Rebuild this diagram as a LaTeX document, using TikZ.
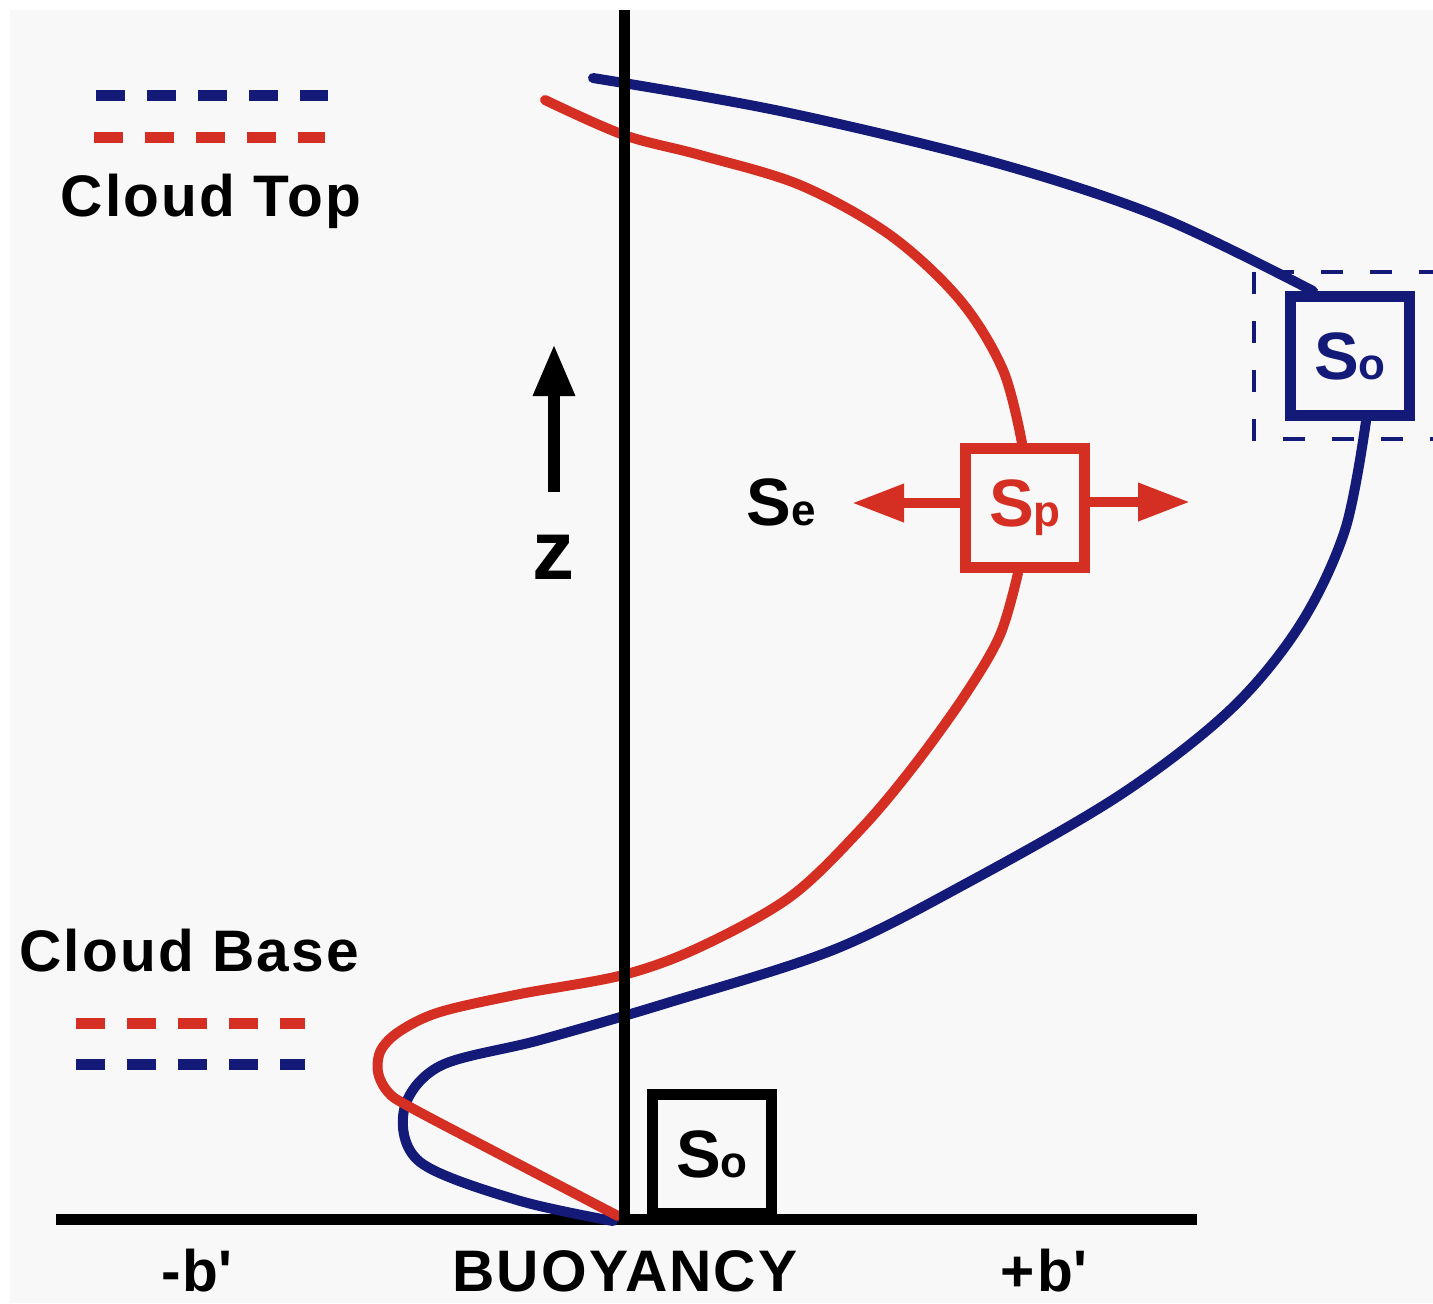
\documentclass[tikz,border=0pt]{standalone}
\usepackage{fontspec}
\setmainfont{Liberation Sans}[LetterSpace=3.7]
\usepackage{xcolor}
\usepackage{tikz}
\usetikzlibrary{arrows.meta,positioning,calc}

\definecolor{bgcol}{HTML}{F8F8F9}
\definecolor{plumeblue}{HTML}{141A78}
\definecolor{plumered}{HTML}{D42F22}
\newcommand{\Sv}[1]{{\fontsize{33.5pt}{36pt}\selectfont S}{\fontsize{22pt}{24pt}\selectfont #1}}

\begin{document}
\begin{tikzpicture}[x=0.5pt,y=-0.5pt,
    lbl/.style={font=\fontsize{29.3pt}{32pt}\selectfont\bfseries, inner sep=0.5pt},
    srcbox/.style={draw=#1, text=#1, fill=bgcol, line width=5.5pt, minimum size=59.5pt, inner sep=0pt, font=\bfseries},
    profile/.style={line width=5pt, line cap=round, smooth, tension=0.55},
    sparrow/.style={plumered, line width=5pt, -{Triangle[length=26pt,width=18pt]}},
    zarrow/.style={line width=6pt, -{Triangle[length=26pt,width=19.5pt]}}]
\useasboundingbox (0,0) rectangle (1433,1303);
\fill[white] (0,0) rectangle (1433,1303);
\fill[bgcol] (10,10) rectangle (1433,1303);

% legend dashes
\foreach \xa/\xb/\y/\col in {96/328/95/plumeblue, 94/325/137/plumered, 76/305/1023/plumered, 76/305/1064/plumeblue} {
    \draw[\col, line width=5.5pt, dash pattern=on 14.5pt off 11pt] (\xa,\y) -- (\xb,\y);
}
\node[lbl, anchor=base] (cloudtop) at (211,216) {Cloud Top};
\node[lbl, anchor=base] (cloudbase) at (189,971) {Cloud Base};

% horizontal axis
\draw[line width=5.5pt] (56,1219) -- (1197,1219);

% boxes
\draw[plumeblue, line width=2pt, dash pattern=on 11pt off 13.5pt] (1254,272) rectangle (1450,439);
\node[srcbox=plumeblue] (So) at (1350,356) {\Sv{o}};
\node[srcbox=plumered] (Sp) at (1025,508) {\Sv{p}};
\node[srcbox=black] (Sg) at (712,1154) {\Sv{o}};

% profiles
\draw[profile, plumeblue] plot coordinates {(593,78) (780,111) (993,162) (1160,217) ($(So.north west)+(28,0)$)};
\draw[profile, plumeblue] plot coordinates {($(So.south)+(16,0)$) (1345,530) (1300,625) (1230,710) (1120,795) (967,883) (833,950) (667,1003) (540,1040) (440,1066) (404,1110) (420,1162) (517,1200) (613,1221)};
\draw[profile, plumered] plot coordinates {(545,100) (624,135) (700,155) (800,185) (890,235) (960,300) (1003,370) ($(Sp.north)+(-3,0)$)};
\draw[profile, plumered] plot coordinates {($(Sp.south)+(-7,0)$) (1000,635) (965,695) (913,767) (860,830) (790,897) (700,947) (623,975) (520,994) (440,1012) (400,1031) (381,1050) (378,1072) (388,1092) (410,1107) (505,1157) (618,1216)};

% vertical axis
\draw[line width=5.5pt] (624,10) -- (624,1225);

% entrainment arrows
\coordinate (SeTip) at (852,503);
\coordinate (outTip) at (1190,502);
\draw[sparrow] (Sp.west |- SeTip) -- (SeTip);
\draw[sparrow] (Sp.east |- outTip) -- (outTip);
\node[anchor=base, font=\bfseries] (Se) at (781,525) {\Sv{e}};

% height arrow
\coordinate (zTail) at (554,492);
\coordinate (zTip) at (554,344);
\draw[zarrow] (zTail) -- (zTip);
\node[anchor=base, font=\fontsize{42pt}{44pt}\selectfont\bfseries] (zlabel) at (553,579) {z};

% axis labels
\node[lbl, anchor=base] (bneg) at (197,1291) {-b\textquotesingle};
\node[lbl, anchor=base] (buoy) at (625,1291) {BUOYANCY};
\node[lbl, anchor=base] (bpos) at (1044,1291) {+b\textquotesingle};
\end{tikzpicture}
\end{document}
